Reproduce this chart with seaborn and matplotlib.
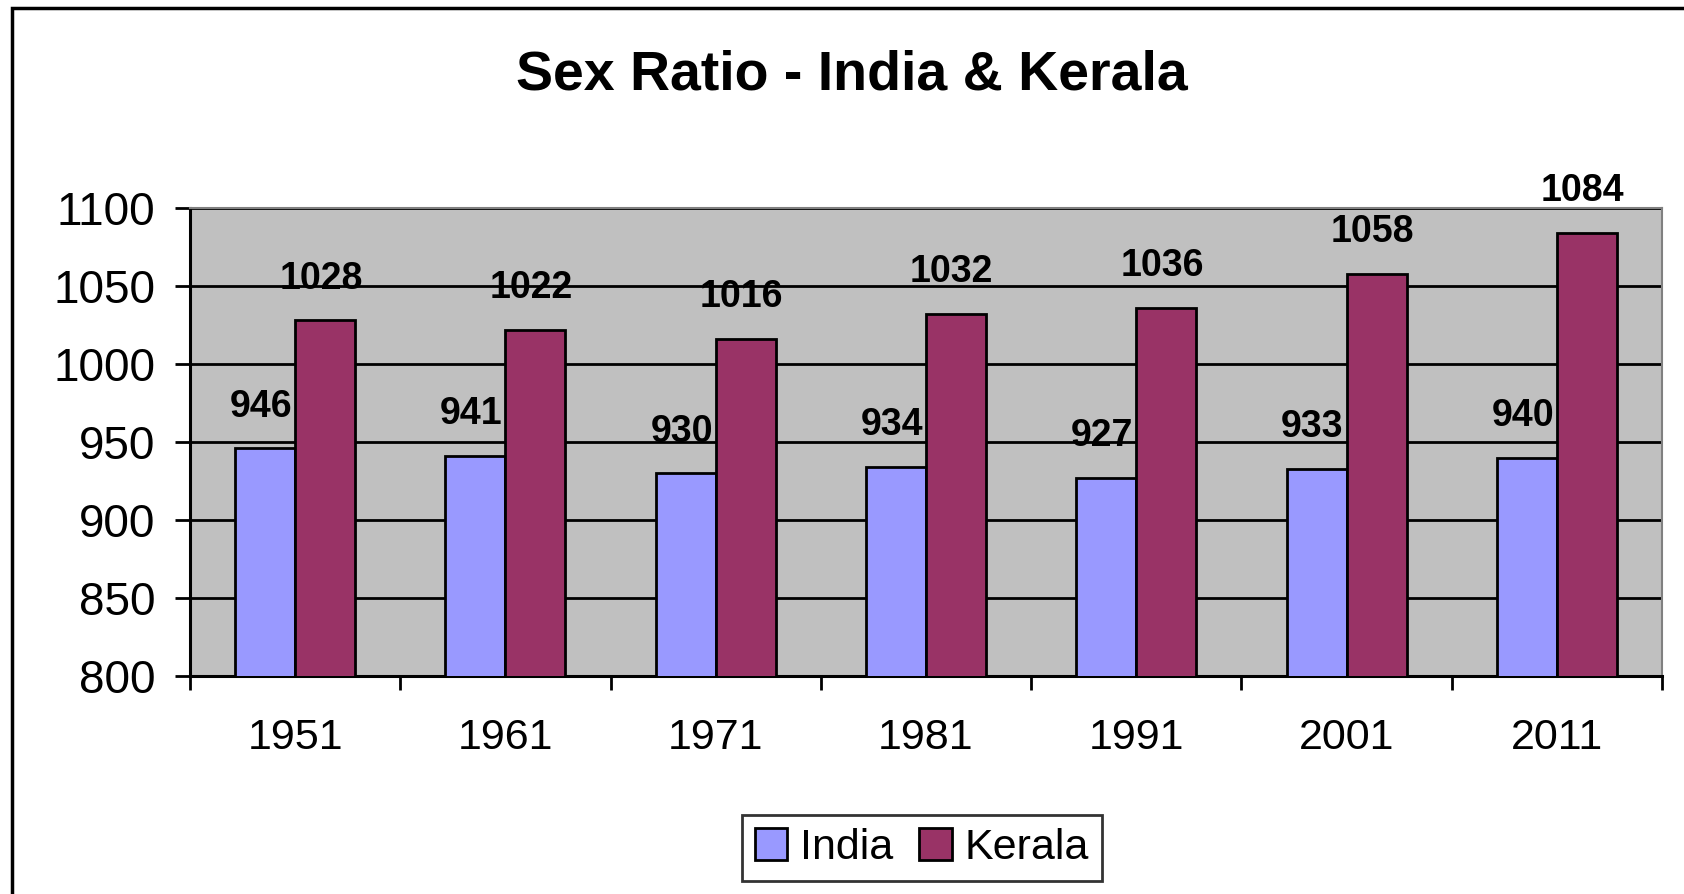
import pandas as pd
import matplotlib.pyplot as plt
import seaborn as sns
from matplotlib.patches import Rectangle

years = ['1951', '1961', '1971', '1981', '1991', '2001', '2011']
india = [946, 941, 930, 934, 927, 933, 940]
kerala = [1028, 1022, 1016, 1032, 1036, 1058, 1084]
yticks = [800, 850, 900, 950, 1000, 1050, 1100]

tabela = pd.DataFrame({'ano': years * 2,
                       'valor': india + kerala,
                       'regiao': ['India'] * 7 + ['Kerala'] * 7})

sns.set_style('white')
plt.rcParams['font.family'] = ['Liberation Sans', 'DejaVu Sans']
plt.rcParams['text.color'] = 'black'
plt.rcParams['xtick.color'] = 'black'
plt.rcParams['ytick.color'] = 'black'

fig = plt.figure(figsize=(16.84, 8.94), dpi=100)
ax = fig.add_axes([190 / 1684, 1 - 676 / 894, 1472 / 1684, 468 / 894])
ax.set_facecolor('#C0C0C0')

sns.barplot(data=tabela, x='ano', y='valor', hue='regiao', ax=ax,
            palette={'India': '#9999FF', 'Kerala': '#993366'},
            width=0.57, edgecolor='black', linewidth=2, saturation=1,
            zorder=3)

ax.set_ylim(800, 1100)
ax.set_xlim(-0.5, 6.5)
ax.set_yticks(yticks)
ax.set_yticklabels([str(v) for v in yticks], fontsize=33)
ax.yaxis.grid(True, color='black', linewidth=2, zorder=1)
ax.set_axisbelow(True)

# ticks between categories, labels centred
ax.set_xticks([i - 0.5 for i in range(8)])
ax.set_xticklabels([])
ax.set_xticks(range(7), minor=True)
ax.set_xticklabels(years, minor=True, fontsize=31)
ax.tick_params(axis='x', which='major', direction='out', length=10, width=2, bottom=True, color='black')
ax.tick_params(axis='x', which='minor', length=0, pad=30)
ax.tick_params(axis='y', direction='out', length=11, width=2, left=True, color='black', pad=14)
ax.set_xlabel('')
ax.set_ylabel('')

for s in ['left', 'bottom']:
    ax.spines[s].set_color('black')
    ax.spines[s].set_linewidth(2.2)
for s in ['top', 'right']:
    ax.spines[s].set_color('#808080')
    ax.spines[s].set_linewidth(1.5)

# data labels
for cont in ax.containers:
    for bar in cont:
        h = bar.get_height()
        ax.annotate(f'{h:.0f}', (bar.get_x() + bar.get_width() / 2 - 0.02, h),
                    xytext=(0, 30), textcoords='offset points',
                    ha='center', va='center', fontsize=27, fontweight='bold',
                    annotation_clip=False, zorder=5)

leg = ax.legend(loc='center', bbox_to_anchor=(922 / 1684, 1 - 848 / 894),
                bbox_transform=fig.transFigure, ncol=2, fontsize=31,
                frameon=True, fancybox=False, edgecolor='black',
                handlelength=0.75, handleheight=0.75, handletextpad=0.3,
                columnspacing=0.6, borderpad=0.3)
leg.get_frame().set_linewidth(2)
for h in leg.legend_handles:
    h.set_edgecolor('black')
    h.set_linewidth(2)

fig.text(852 / 1684, 1 - 76 / 894, 'Sex Ratio - India & Kerala', ha='center', va='center',
         fontsize=40, fontweight='bold')

# outer chart border
fig.patches.append(Rectangle((12 / 1684, -0.05), 1.1, 1 - 8 / 894 + 0.05,
                             transform=fig.transFigure, fill=False,
                             edgecolor='black', linewidth=2.5))

plt.savefig('out.png', dpi=100)
